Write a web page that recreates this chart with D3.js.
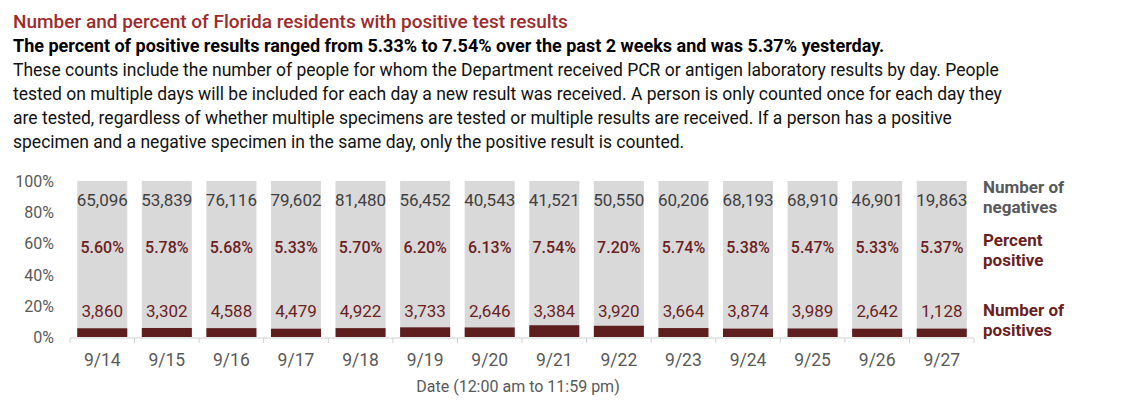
<!DOCTYPE html>
<html>
<head>
<meta charset="utf-8">
<script src="https://cdn.jsdelivr.net/npm/d3@7"></script>
<style>
  body { margin: 0; background: #fff; }
  svg text { font-family: "Roboto", "Liberation Sans", sans-serif; }
</style>
</head>
<body>
<svg id="chart" width="1140" height="401"></svg>
<script>
var dates = ['9/14', '9/15', '9/16', '9/17', '9/18', '9/19', '9/20', '9/21', '9/22', '9/23', '9/24', '9/25', '9/26', '9/27'];
var negatives = [65096, 53839, 76116, 79602, 81480, 56452, 40543, 41521, 50550, 60206, 68193, 68910, 46901, 19863];
var positives = [3860, 3302, 4588, 4479, 4922, 3733, 2646, 3384, 3920, 3664, 3874, 3989, 2642, 1128];
var percents = ['5.60%', '5.78%', '5.68%', '5.33%', '5.70%', '6.20%', '6.13%', '7.54%', '7.20%', '5.74%', '5.38%', '5.47%', '5.33%', '5.37%'];
var yTicks = [0, 0.2, 0.4, 0.6, 0.8, 1];

var title = 'Number and percent of Florida residents with positive test results';
var subtitle = 'The percent of positive results ranged from 5.33% to 7.54% over the past 2 weeks and was 5.37% yesterday.';
var notes = [
    'These counts include the number of people for whom the Department received PCR or antigen laboratory results by day. People',
    'tested on multiple days will be included for each day a new result was received. A person is only counted once for each day they',
    'are tested, regardless of whether multiple specimens are tested or multiple results are received. If a person has a positive',
    'specimen and a negative specimen in the same day, only the positive result is counted.'
];

var svg = d3.select('#chart');

svg.append('text').attr('x', 13).attr('y', 28)
    .attr('fill', '#9e2a2b').style('font-size', '19px').style('font-weight', 500).text(title);
svg.append('text').attr('x', 13).attr('y', 52)
    .attr('fill', '#000').style('font-size', '18px').style('font-weight', 'bold').text(subtitle);
svg.selectAll('text.note').data(notes).enter().append('text').attr('class', 'note')
    .attr('x', 13).attr('y', (d, i) => 76 + i * 24)
    .attr('fill', '#111').style('font-size', '17.5px').text(d => d);

var x = d3.scaleBand().domain(dates).range([70, 974]).paddingInner(0.225).paddingOuter(0.112);
var y = d3.scaleLinear().domain([0, 1]).range([337, 181]);

var rows = dates.map((d, i) => ({
    date: d, neg: negatives[i], pos: positives[i], pct: percents[i],
    share: positives[i] / (positives[i] + negatives[i])
}));

var g = svg.append('g');
var bars = g.selectAll('g.day').data(rows).enter().append('g').attr('class', 'day');
bars.append('rect')
    .attr('x', d => x(d.date)).attr('width', x.bandwidth())
    .attr('y', y(1)).attr('height', y(0) - y(1))
    .attr('fill', '#d9d9d9');
bars.append('rect')
    .attr('x', d => x(d.date)).attr('width', x.bandwidth())
    .attr('y', d => y(d.share)).attr('height', d => y(0) - y(d.share))
    .attr('fill', '#5e1e1e');

var cx = d => x(d.date) + x.bandwidth() / 2;
bars.append('text').attr('x', cx).attr('y', 206)
    .attr('text-anchor', 'middle').attr('fill', '#404040').style('font-size', '17px')
    .text(d => d3.format(',')(d.neg));
bars.append('text').attr('x', cx).attr('y', 253)
    .attr('text-anchor', 'middle').attr('fill', '#6b1f1f').style('font-size', '16px')
    .style('font-weight', 500).text(d => d.pct);
bars.append('text').attr('x', cx).attr('y', 317)
    .attr('text-anchor', 'middle').attr('fill', '#6b1f1f').style('font-size', '17px')
    .text(d => d3.format(',')(d.pos));

// x axis: baseline with ticks between days
var xAxis = svg.append('g');
xAxis.append('line').attr('x1', 70).attr('x2', 974).attr('y1', 338).attr('y2', 338)
    .attr('stroke', '#d0d0d0').attr('stroke-width', 1);
xAxis.selectAll('line.tick').data(d3.range(dates.length + 1)).enter().append('line')
    .attr('class', 'tick')
    .attr('x1', i => 70 + i * x.step()).attr('x2', i => 70 + i * x.step())
    .attr('y1', 338).attr('y2', 343).attr('stroke', '#d0d0d0');
xAxis.selectAll('text').data(dates).enter().append('text')
    .attr('x', d => x(d) + x.bandwidth() / 2).attr('y', 366)
    .attr('text-anchor', 'middle').attr('fill', '#595959').style('font-size', '17.5px')
    .text(d => d);
svg.append('text').attr('x', 518).attr('y', 392).attr('text-anchor', 'middle')
    .attr('fill', '#595959').style('font-size', '16px').text('Date (12:00 am to 11:59 pm)');

// y axis labels
svg.selectAll('text.ytick').data(yTicks).enter().append('text').attr('class', 'ytick')
    .attr('x', 54).attr('y', d => y(d) + 6).attr('text-anchor', 'end')
    .attr('fill', '#595959').style('font-size', '16px')
    .text(d => d3.format('.0%')(d));

// legend labels on the right
var legend = [
    {lines: ['Number of', 'negatives'], y: 193, color: '#595959'},
    {lines: ['Percent', 'positive'], y: 246, color: '#6b1f1f'},
    {lines: ['Number of', 'positives'], y: 316, color: '#6b1f1f'}
];
legend.forEach(function(l) {
    l.lines.forEach(function(t, i) {
        svg.append('text').attr('x', 983).attr('y', l.y + i * 20)
            .attr('fill', l.color).style('font-size', '17px').style('font-weight', 'bold')
            .text(t);
    });
});
</script>
</body>
</html>
